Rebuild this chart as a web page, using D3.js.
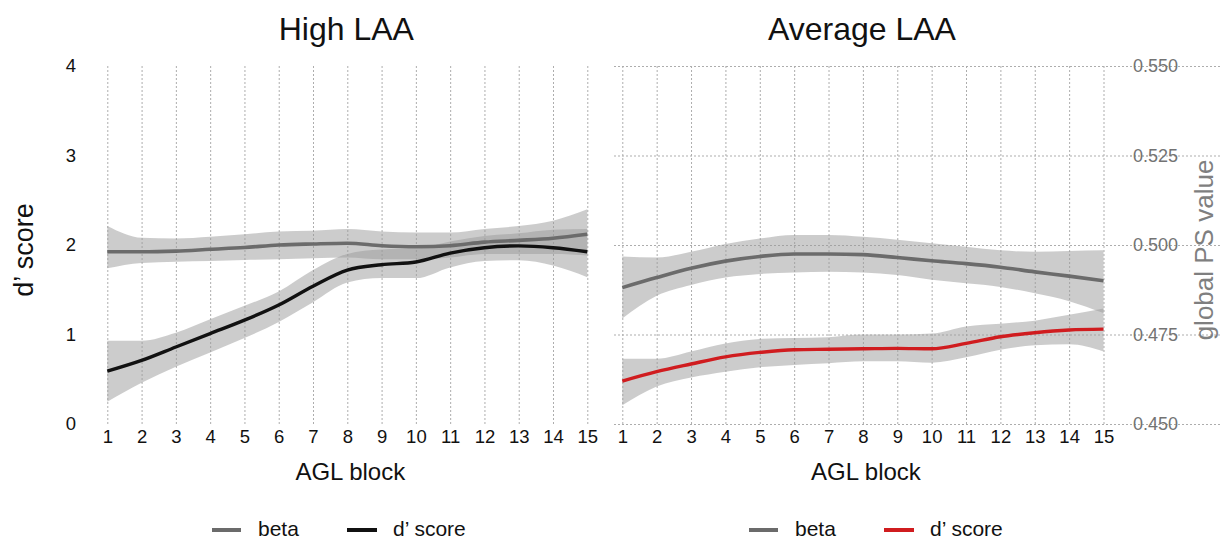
<!DOCTYPE html>
<html>
<head>
<meta charset="utf-8">
<script src="https://cdn.jsdelivr.net/npm/d3@7"></script>
<style>
  html, body { margin: 0; padding: 0; background: #fff; }
  svg { display: block; font-family: "Liberation Sans", Arial, Helvetica, sans-serif; }
</style>
</head>
<body>
<svg id="chart" width="1220" height="541"></svg>
<script>
// AGL blocks 1..15
const blocks = d3.range(1, 16);
const dTicks = [0, 1, 2, 3, 4];
const psTicks = [0.450, 0.475, 0.500, 0.525, 0.550];

// High LAA group: smoothed d' score and its confidence band (d' units)
const highD      = [0.59, 0.71, 0.86, 1.01, 1.16, 1.33, 1.54, 1.72, 1.78, 1.81, 1.91, 1.97, 1.99, 1.97, 1.925];
const highDLow   = [0.25, 0.46, 0.64, 0.80, 0.96, 1.14, 1.36, 1.58, 1.63, 1.63, 1.75, 1.82, 1.83, 1.77, 1.64];
const highDHigh  = [0.93, 0.93, 1.02, 1.17, 1.32, 1.48, 1.72, 1.90, 1.95, 1.96, 2.04, 2.10, 2.13, 2.17, 2.18];
// High LAA group: smoothed beta (global PS value) and band
const highBeta     = [0.4981, 0.4981, 0.4983, 0.4988, 0.4993, 0.5000, 0.5003, 0.5005, 0.4998, 0.4995, 0.4998, 0.5008, 0.5013, 0.5019, 0.5030];
const highBetaLow  = [0.4935, 0.4950, 0.4953, 0.4955, 0.4958, 0.4960, 0.4963, 0.4965, 0.4960, 0.4960, 0.4965, 0.4975, 0.4975, 0.4975, 0.4971];
const highBetaHigh = [0.5053, 0.5020, 0.5018, 0.5023, 0.5030, 0.5038, 0.5040, 0.5045, 0.5038, 0.5035, 0.5035, 0.5045, 0.5053, 0.5068, 0.5100];

// Average LAA group
const avgD      = [0.48, 0.585, 0.67, 0.75, 0.80, 0.83, 0.835, 0.84, 0.845, 0.84, 0.90, 0.975, 1.02, 1.05, 1.06];
const avgDLow   = [0.21, 0.42, 0.52, 0.585, 0.635, 0.66, 0.68, 0.70, 0.70, 0.685, 0.745, 0.83, 0.88, 0.89, 0.81];
const avgDHigh  = [0.73, 0.73, 0.81, 0.90, 0.95, 0.96, 0.97, 1.00, 1.00, 1.01, 1.09, 1.12, 1.155, 1.22, 1.29];
const avgBeta     = [0.4881, 0.4909, 0.4935, 0.4955, 0.4968, 0.4975, 0.4975, 0.4973, 0.4965, 0.4956, 0.4948, 0.4938, 0.4925, 0.4913, 0.4900];
const avgBetaLow  = [0.4795, 0.4858, 0.4888, 0.4909, 0.4919, 0.4923, 0.4925, 0.4923, 0.4916, 0.4903, 0.4893, 0.4883, 0.4865, 0.4843, 0.4810];
const avgBetaHigh = [0.4968, 0.4965, 0.4981, 0.5003, 0.5018, 0.5028, 0.5028, 0.5023, 0.5015, 0.5005, 0.4995, 0.4985, 0.4981, 0.4983, 0.4985];

const panelTitles = ["High LAA", "Average LAA"];
const seriesNames = ["beta", "d\u2019 score"];

const colBeta = "#6b6b6b";
const colBand = "#999999";
const colGrid = "#adadad";

const svg = d3.select("#chart");

const yTop = 66, yBottom = 424;
const yD  = d3.scaleLinear().domain([0, 4]).range([yBottom, yTop]);
const yPS = d3.scaleLinear().domain([0.45, 0.55]).range([yBottom, yTop]);

const panels = [
  { title: panelTitles[0], x0: 107.3, x1: 587.3, gl: 80, gr: 614,
    d: highD, dLo: highDLow, dHi: highDHigh, b: highBeta, bLo: highBetaLow, bHi: highBetaHigh,
    dColor: "#111111", legendX: 212 },
  { title: panelTitles[1], x0: 622.3, x1: 1103.5, gl: 596, gr: 1130,
    d: avgD, dLo: avgDLow, dHi: avgDHigh, b: avgBeta, bLo: avgBetaLow, bHi: avgBetaHigh,
    dColor: "#d01c1f", legendX: 749 }
];

function styleGrid(g) {
  g.select(".domain").remove();
  g.selectAll(".tick line")
    .attr("stroke", colGrid)
    .attr("stroke-width", 1)
    .attr("stroke-dasharray", "2,2");
}

panels.forEach((p, i) => {
  const x = d3.scaleLinear().domain([1, 15]).range([p.x0, p.x1]);
  const cx = (p.x0 + p.x1) / 2;

  // horizontal grid lines
  const gy = svg.append("g")
    .attr("transform", `translate(${p.gr},0)`)
    .call(d3.axisLeft(yD).tickValues(dTicks).tickSize(-(p.gr - p.gl)).tickFormat(""));
  styleGrid(gy);

  // vertical grid lines + block labels
  const gx = svg.append("g")
    .attr("transform", `translate(0,${yBottom})`)
    .call(d3.axisBottom(x).tickValues(blocks).tickSize(-(yBottom - yTop)).tickPadding(6).tickFormat(d3.format("d")));
  styleGrid(gx);
  gx.selectAll(".tick text").attr("font-size", 18.5).attr("fill", "#111").attr("font-family", null);

  // confidence bands
  const bandD = d3.area().curve(d3.curveMonotoneX)
    .x((d, j) => x(blocks[j]))
    .y0((d, j) => yD(p.dLo[j]))
    .y1((d, j) => yD(p.dHi[j]));
  const bandB = d3.area().curve(d3.curveMonotoneX)
    .x((d, j) => x(blocks[j]))
    .y0((d, j) => yPS(p.bLo[j]))
    .y1((d, j) => yPS(p.bHi[j]));
  svg.append("path").datum(blocks).attr("d", bandB).attr("fill", colBand).attr("fill-opacity", 0.5);
  svg.append("path").datum(blocks).attr("d", bandD).attr("fill", colBand).attr("fill-opacity", 0.5);

  // smoothed lines
  const lineB = d3.line().curve(d3.curveMonotoneX)
    .x((d, j) => x(blocks[j])).y((d, j) => yPS(p.b[j]));
  const lineD = d3.line().curve(d3.curveMonotoneX)
    .x((d, j) => x(blocks[j])).y((d, j) => yD(p.d[j]));
  svg.append("path").datum(blocks).attr("d", lineB)
    .attr("fill", "none").attr("stroke", colBeta).attr("stroke-width", 3.6);
  svg.append("path").datum(blocks).attr("d", lineD)
    .attr("fill", "none").attr("stroke", p.dColor).attr("stroke-width", 3.4);

  // panel title and x-axis title
  svg.append("text").attr("x", cx - 1).attr("y", 40).attr("text-anchor", "middle")
    .attr("font-size", 32).attr("fill", "#111").text(p.title);
  svg.append("text").attr("x", cx + 3).attr("y", 480).attr("text-anchor", "middle")
    .attr("font-size", 24).attr("fill", "#111").text("AGL block");

  // legend
  const lx = p.legendX, ly = 530;
  svg.append("line").attr("x1", lx).attr("x2", lx + 29).attr("y1", ly).attr("y2", ly)
    .attr("stroke", colBeta).attr("stroke-width", 4);
  svg.append("text").attr("x", lx + 46).attr("y", 536).attr("font-size", 21).attr("fill", "#111").text(seriesNames[0]);
  svg.append("line").attr("x1", lx + 135).attr("x2", lx + 165).attr("y1", ly).attr("y2", ly)
    .attr("stroke", p.dColor).attr("stroke-width", 4);
  svg.append("text").attr("x", lx + 181).attr("y", 536).attr("font-size", 21).attr("fill", "#111").text(seriesNames[1]);
});

// left axis: d' score
const axL = svg.append("g").attr("transform", "translate(80,0)")
  .call(d3.axisLeft(yD).tickValues(dTicks).tickSize(0).tickPadding(4).tickFormat(d3.format("d")));
axL.select(".domain").remove();
axL.selectAll(".tick text").attr("font-size", 18.5).attr("fill", "#111").attr("font-family", null);
svg.append("text").attr("transform", "translate(33,250) rotate(-90)").attr("text-anchor", "middle")
  .attr("font-size", 27).attr("fill", "#111").text("d\u2019 score");

// right axis: global PS value
const axR = svg.append("g").attr("transform", "translate(1130,0)")
  .call(d3.axisRight(yPS).tickValues(psTicks).tickSize(0).tickPadding(3).tickFormat(d3.format(".3f")));
axR.select(".domain").remove();
axR.selectAll(".tick text").attr("font-size", 18).attr("fill", "#737373").attr("font-family", null);
svg.append("text").attr("transform", "translate(1213,250) rotate(-90)").attr("text-anchor", "middle")
  .attr("font-size", 26).attr("fill", "#7f7f7f").text("global PS value");
</script>
</body>
</html>
